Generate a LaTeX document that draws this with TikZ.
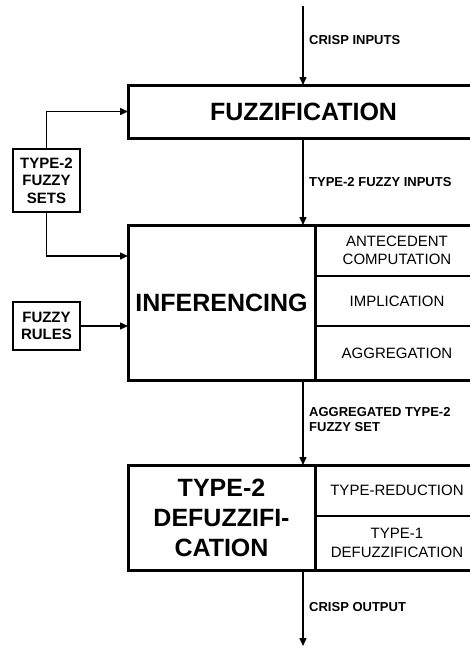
\documentclass[tikz,border=0pt]{standalone}
\usepackage{fontspec}
\setmainfont{Liberation Sans}
\usetikzlibrary{arrows.meta,calc}
\begin{document}
\begin{tikzpicture}[x=1pt,y=-1pt,
  line join=miter,
  bigfont/.style={font=\bfseries\fontsize{25}{30}\selectfont},
  lbl/.style={font=\bfseries\fontsize{13}{15}\selectfont, anchor=west, align=left, inner sep=0pt},
  thickbox/.style={draw, line width=3pt, outer sep=0pt, inner sep=0pt, anchor=north west, align=center},
  cellbox/.style={draw, line width=1.5pt, outer sep=0pt, inner sep=0pt, anchor=north west, align=center, font=\fontsize{15}{18.5}\selectfont},
  smallbox/.style={draw, line width=1.5pt, outer sep=0pt, inner sep=0pt, anchor=north west, align=center, font=\bfseries\fontsize{15}{17.5}\selectfont},
  arr/.style={line width=1.5pt, -{Triangle[length=8pt,width=7pt]}}]
\useasboundingbox (0,0) rectangle (470,646);
\clip (0,0) rectangle (470,646);

% main blocks
\node[thickbox, minimum width=351pt, minimum height=53pt, bigfont] (fuzz) at (128,85) {FUZZIFICATION};

\node[thickbox, minimum width=187pt, minimum height=155pt, bigfont] (inf) at (128,225) {INFERENCING};
\node[cellbox, minimum width=164pt, minimum height=51pt] (ant) at (315,225) {ANTECEDENT\\COMPUTATION};
\node[cellbox, minimum width=164pt, minimum height=50pt] (imp) at (315,276) {IMPLICATION};
\node[cellbox, minimum width=164pt, minimum height=54pt] (agg) at (315,326) {AGGREGATION};
\draw[line width=3pt] (inf.north west) rectangle (agg.south east);
\draw[line width=3pt] (inf.north east) -- (inf.south east);

\node[thickbox, minimum width=187pt, minimum height=105pt, bigfont] (def) at (128,465) {TYPE-2\\DEFUZZIFI-\\CATION};
\node[cellbox, minimum width=164pt, minimum height=51pt] (tr) at (315,465) {TYPE-REDUCTION};
\node[cellbox, minimum width=164pt, minimum height=54pt] (t1d) at (315,516) {TYPE-1\\DEFUZZIFICATION};
\draw[line width=3pt] (def.north west) rectangle (t1d.south east);
\draw[line width=3pt] (def.north east) -- (def.south east);

% side inputs
\node[smallbox, minimum width=67pt, minimum height=63pt] (t2s) at (13,149) {TYPE-2\\FUZZY\\SETS};
\node[smallbox, minimum width=67pt, minimum height=48pt] (fr) at (13,302) {FUZZY\\RULES};

% labels
\node[lbl] (l1) at (309,40) {CRISP INPUTS};
\node[lbl] (l2) at (309,182) {TYPE-2 FUZZY INPUTS};
\node[lbl] (l3) at (309,419.5) {AGGREGATED TYPE-2\\FUZZY SET};
\node[lbl] (l4) at (309,607) {CRISP OUTPUT};

% connectors
\coordinate (top) at (303,6);
\coordinate (bot) at (303,646);
\draw[arr] (top) -- (top |- fuzz.north);
\draw[arr] (top |- fuzz.south) -- (top |- inf.north);
\draw[arr] (top |- inf.south) -- (top |- def.north);
\draw[arr] (top |- def.south) -- (bot);
\draw[arr] (t2s.north) |- (fuzz.west);
\draw[arr] (t2s.south) |- ($(inf.north west)!0.2!(inf.south west)$);
\draw[arr] (fr.east) -- (fr.east -| inf.west);
\end{tikzpicture}
\end{document}
